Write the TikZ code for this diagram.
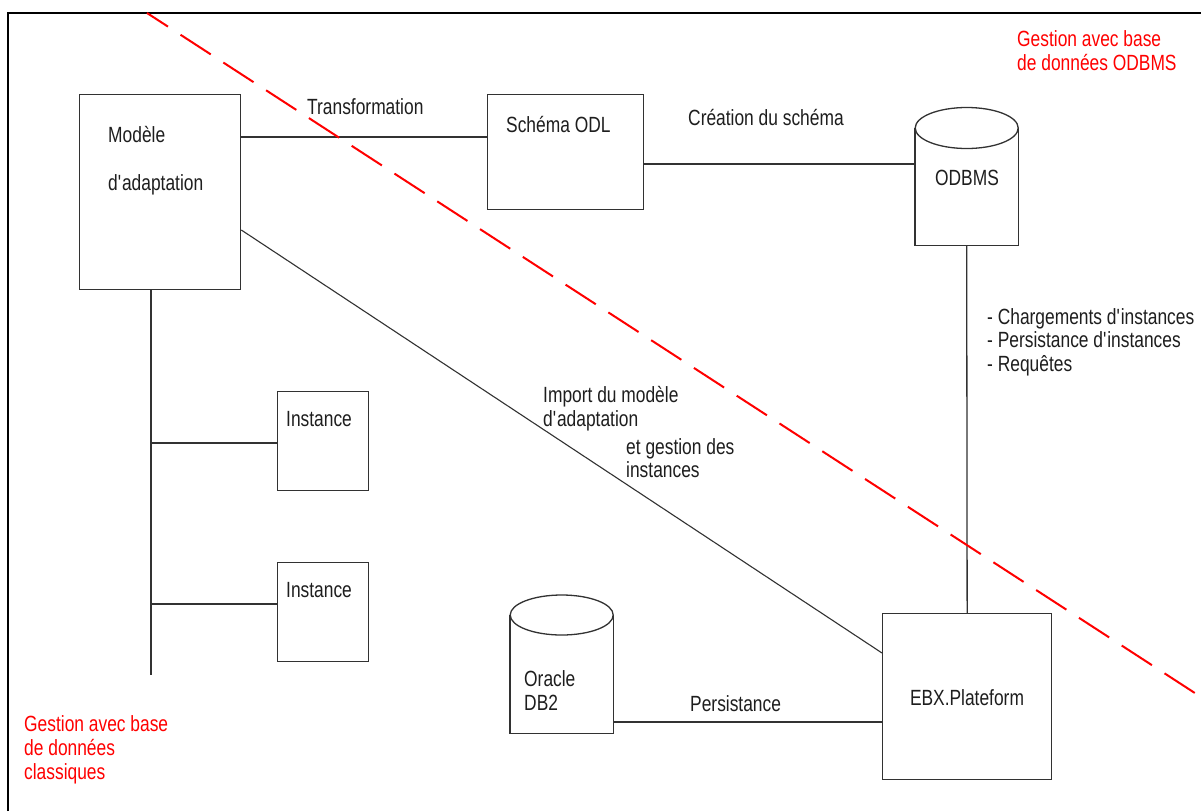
\documentclass[tikz,border=0pt]{standalone}
\usepackage{fontspec}
\setmainfont{Liberation Sans}[FakeStretch=0.79]
\usetikzlibrary{calc}
\definecolor{lc}{RGB}{50,50,50}
\definecolor{tc}{RGB}{30,30,30}
\definecolor{rd}{RGB}{255,0,0}
\newcommand{\apo}{\textquotesingle}
\begin{document}
\begin{tikzpicture}[x=1pt,y=-1pt,
  ln/.style={draw=lc, line width=1.3pt},
  boxnode/.style={ln, rectangle, inner sep=0pt, anchor=north west},
  ghost/.style={rectangle, inner sep=0pt, anchor=north west},
  txt/.style={anchor=base west, inner sep=0pt, text=tc, font=\fontsize{22}{23.5}\selectfont},
  ctxt/.style={txt, anchor=base},
  rtxt/.style={txt, text=rd},
  reddash/.style={draw=rd, line width=2pt, dash pattern=on 36pt off 15pt, dash phase=11pt},
  frame/.style={draw=black, line width=2.2pt}]
\useasboundingbox (0,0) rectangle (1201,811);
\fill[white] (0,0) rectangle (1201,811);

% frame
\coordinate (fBL) at (8,811);
\coordinate (fTL) at (8,13);
\coordinate (fTR) at (1201,13);
\draw[frame] (fBL) -- (fTL) -- (fTR);

% boxes
\node[boxnode, minimum width=161pt, minimum height=195pt] (mod) at (79,94) {};
\node[boxnode, minimum width=156pt, minimum height=115pt] (odl) at (487,94) {};
\node[boxnode, minimum width=91pt, minimum height=99pt] (inst1) at (277,391) {};
\node[boxnode, minimum width=91pt, minimum height=99pt] (inst2) at (277,562) {};
\node[boxnode, minimum width=169pt, minimum height=166pt] (ebx) at (882,613) {};

% cylinders
\node[ghost, minimum width=103pt, minimum height=138pt] (odbms) at (915,107) {};
\draw[ln] ($(odbms.north west)+(0,21)$) -- (odbms.south west) -- (odbms.south east) -- ($(odbms.north east)+(0,21)$);
\draw[ln] ($(odbms.north)+(0,21)$) ellipse [x radius=51.5, y radius=20.5];

\node[ghost, minimum width=103pt, minimum height=138pt] (ora) at (510,595) {};
\draw[ln] ($(ora.north west)+(0,20)$) -- (ora.south west) -- (ora.south east) -- ($(ora.north east)+(0,20)$);
\draw[ln] ($(ora.north)+(0,20)$) ellipse [x radius=51.5, y radius=20];

% connectors
\draw[ln] ($(mod.north east)+(0,43)$) -- ($(odl.north west)+(0,43)$);
\draw[ln] ($(odl.north east)+(0,70)$) -- ($(odbms.north west)+(0,57)$);
\draw[ln, line width=1.1pt] ($(mod.north east)+(0,136)$) -- ($(ebx.north west)+(0,40)$);
\draw[ln] (odbms.south) -- (ebx.north);
\draw[ln] ($(ora.north east)+(0,127)$) -- ($(ebx.north west)+(0,109)$);

\coordinate (trunkEnd) at (151,675);
\coordinate (b1) at (151,443);
\coordinate (b2) at (151,604);
\draw[ln] ($(mod.south west)+(72,0)$) -- (trunkEnd);
\draw[ln] (b1) -- ($(inst1.north west)+(0,52)$);
\draw[ln] (b2) -- ($(inst2.north west)+(0,42)$);

% red separator
\coordinate (rA) at (147,13);
\coordinate (rB) at (1201,697);
\draw[reddash] (rA) -- (rB);

% texts
\node[txt] (tMod1) at (108,142) {Modèle};
\node[txt] (tMod2) at (108,190) {d\apo adaptation};
\node[txt] (tTrans) at (307,114) {Transformation};
\node[txt] (tOdl) at (506,132) {Schéma ODL};
\node[txt] (tCre) at (688,125) {Création du schéma};
\node[ctxt] (tOdbms) at (967,185) {ODBMS};
\node[rtxt] (tR1) at (1017,46) {Gestion avec base};
\node[rtxt] (tR2) at (1017,70) {de données ODBMS};
\node[txt] (tL1) at (987,324) {- Chargements d\apo instances};
\node[txt] (tL2) at (987,347) {- Persistance d\apo instances};
\node[txt] (tL3) at (987,371) {- Requêtes};
\node[txt] (tI1) at (543,402) {Import du modèle};
\node[txt] (tI2) at (543,426) {d\apo adaptation};
\node[txt] (tI3) at (626,454) {et gestion des};
\node[txt] (tI4) at (626,477) {instances};
\node[txt] (tInst1) at (286,426) {Instance};
\node[txt] (tInst2) at (286,597) {Instance};
\node[txt] (tOra1) at (524,686) {Oracle};
\node[txt] (tOra2) at (524,710) {DB2};
\node[txt] (tPers) at (690,711) {Persistance};
\node[ctxt] (tEbx) at (967,705) {EBX.Plateform};
\node[rtxt] (tB1) at (24,731) {Gestion avec base};
\node[rtxt] (tB2) at (24,755) {de données};
\node[rtxt] (tB3) at (24,779) {classiques};
\end{tikzpicture}
\end{document}
